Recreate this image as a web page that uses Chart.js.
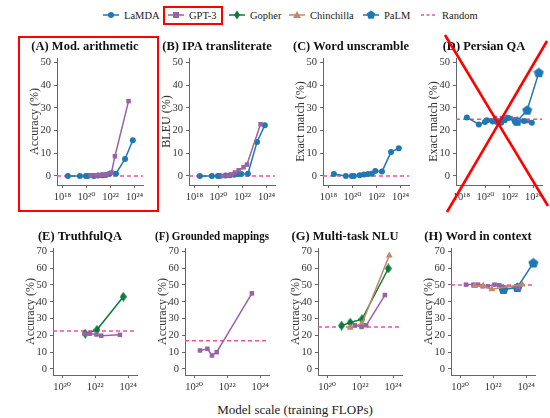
<!doctype html>
<html lang="en">
  <head>
    <meta charset="utf-8">
    <title>Emergent abilities</title>
    <style>
      * { margin: 0; padding: 0; }
      body {
        width: 550px;
        height: 418px;
        position: relative;
        overflow: hidden;
        background: #fff;
        font-family: "Liberation Serif", "DejaVu Serif", serif;
        color: #222;
      }
      .panel { position: absolute; }
      .item {
        position: absolute;
        top: 6px;
        height: 18px;
        display: flex;
        align-items: center;
        font-size: 10.5px;
        white-space: nowrap;
      }
      .item svg { margin-right: 5px; }
      .gptBox {
        position: absolute;
        left: 163px; top: 6px;
        width: 60px; height: 19px;
        border: 2px solid #ff0000;
        box-sizing: border-box;
      }
      .boxA {
        position: absolute;
        left: 18px; top: 36px;
        width: 141px; height: 176px;
        border: 2.5px solid #ff0000;
        box-sizing: border-box;
      }
      .xlabel {
        position: absolute;
        left: 195px; top: 402px;
        width: 200px;
        text-align: center;
        font-size: 13px;
      }
      .overlay { position: absolute; left: 0; top: 0; pointer-events: none; }
    </style>
  </head>
  <body>
    <div class="item" style="left:103px">
      <svg width="16" height="10"><line x1="0" y1="5" x2="16" y2="5" stroke="#1f77b4" stroke-width="1.5"/><circle cx="8" cy="5" r="3" fill="#1f77b4"/></svg>LaMDA</div>
    <div class="item" style="left:168px">
      <svg width="16" height="10"><line x1="0" y1="5" x2="16" y2="5" stroke="#9a62a6" stroke-width="1.5"/><rect x="5" y="2" width="6" height="6" fill="#9a62a6"/></svg>GPT-3</div>
    <div class="item" style="left:229px">
      <svg width="16" height="10"><line x1="0" y1="5" x2="16" y2="5" stroke="#0b7a3b" stroke-width="1.5"/><polygon points="8,0.5 11,5 8,9.5 5,5" fill="#0b7a3b"/></svg>Gopher</div>
    <div class="item" style="left:289px">
      <svg width="16" height="10"><line x1="0" y1="5" x2="16" y2="5" stroke="#c08a68" stroke-width="1.5"/><polygon points="8,1 12,8 4,8" fill="#c08a68"/></svg>Chinchilla</div>
    <div class="item" style="left:363px">
      <svg width="16" height="10"><line x1="0" y1="5" x2="16" y2="5" stroke="#1f77b4" stroke-width="1.5"/><polygon points="8,0.5 12.3,3.6 10.6,8.7 5.4,8.7 3.7,3.6" fill="#1f77b4"/></svg>PaLM</div>
    <div class="item" style="left:421px">
      <svg width="16" height="10"><line x1="0" y1="5" x2="16" y2="5" stroke="#f0509a" stroke-width="1.5" stroke-dasharray="3,2.5"/></svg>Random</div>
    <div class="gptBox"></div>

    <div class="xlabel">Model scale (training FLOPs)</div>

    <script src="https://cdn.jsdelivr.net/npm/chart.js/dist/chart.umd.min.js"></script>
    <script>
    // data: training FLOPs per model and scores per task
    const lamdaFlops = [2.8e18, 2.8e19, 8.9e19, 1.3e20, 4.0e20, 8.9e20, 2.0e21, 4.0e21, 7.9e21, 2.8e22, 1.6e23, 7.1e23];
    const gpt3Flops = [2.25e20, 6.41e20, 1.2e21, 2.31e21, 4.77e21, 1.2e22, 2.31e22, 3.14e23];
    const gopherFlops = [7.5e20, 2.5e21, 1.28e22, 5.04e23];
    const chinchillaFlopsG = [2.5e21, 1.28e22, 5.76e23];
    const chinchillaFlopsH = [7.5e20, 2.5e21, 8.3e21, 5.76e23];
    const palmFlops = [4.2e22, 2.9e23, 2.7e24];

    const modArithLamda = [0, 0, 0, 0, 0, 0.2, 0.3, 0.4, 0.8, 1.0, 7.5, 15.7];
    const modArithGpt3 = [0.3, 0.3, 0.4, 0.5, 0.6, 1.5, 8.7, 33];
    const ipaLamda = [0, 0, 0, 0, 0.2, 0.3, 0.5, 0.8, 0.9, 1.0, 15, 22.4];
    const ipaGpt3 = [0, 0.3, 0.6, 1.5, 2.5, 3.8, 5, 22.8];
    const unscrambleLamda = [0.9, 0, 0, 0, 0.3, 0.6, 0.9, 1.0, 2.2, 1.9, 10.5, 12.2];
    const persianLamda = [25.8, 22.7, 23.8, 24.5, 24, 23.8, 23.5, 24.5, 25.5, 24.0, 24.2, 23.5];
    const persianGpt3 = [24.5, 25.5, 24.5, 25.5, 26, 25.5, 25, 24.2];
    const persianPalm = [24.1, 29, 45.5];
    const truthfulGpt3Flops = [2.31e21, 4.77e21, 1.2e22, 2.31e22, 3.14e23];
    const truthfulGpt3 = [21, 21, 20.5, 19.8, 20.3];
    const truthfulGopherFlops = [2.5e21, 1.28e22, 5.04e23];
    const truthfulGopher = [21, 23.3, 43];
    const groundedGpt3Flops = [2.25e20, 6.41e20, 1.2e21, 2.31e21, 3.14e23];
    const groundedGpt3 = [11, 12, 8, 10, 45];
    const nluGpt3Flops = [4.77e21, 1.2e22, 2.31e22, 3.14e23];
    const nluGpt3 = [26, 25, 26, 44];
    const nluGopher = [25.8, 27.6, 29.6, 59.8];
    const nluChinchilla = [24.5, 27, 67.5];
    const wicGpt3 = [50.2, 50.2, 50.2, 49.2, 49.2, 50.2, 49.8, 48.5];
    const wicChinchilla = [49.4, 49.5, 47.5, 50.3];
    const wicPalm = [47.3, 48.5, 63.1];

    const randomBaseline = [0, 0, 0, 25, 22.6, 16.8, 25, 50];

    const xTicksTop = [1e18, 1e20, 1e22, 1e24];
    const xTicksBottom = [1e20, 1e22, 1e24];
    const yTicksTop = [0, 10, 20, 30, 40, 50];
    const yTicksBottom = [0, 10, 20, 30, 40, 50, 60, 70];

    const FONT = "'Liberation Serif', 'DejaVu Serif', serif";
    Chart.defaults.font.family = FONT;

    const BLUE = '#1f77b4', PURPLE = '#9a62a6', GREEN = '#0b7a3b', TAN = '#c08a68', PINK = '#f0509a';

    // custom markers
    function marker(w, h, color, pts) {
      const c = document.createElement('canvas');
      c.width = w; c.height = h;
      const g = c.getContext('2d');
      g.fillStyle = color;
      g.beginPath();
      pts.forEach((p, i) => i ? g.lineTo(p[0], p[1]) : g.moveTo(p[0], p[1]));
      g.closePath();
      g.fill();
      return c;
    }
    const diamond = marker(7, 10, GREEN, [[3.5, 0], [7, 5], [3.5, 10], [0, 5]]);
    const pentagon = (() => {
      const pts = [];
      for (let k = 0; k < 5; k++) {
        const a = -Math.PI / 2 + k * 2 * Math.PI / 5;
        pts.push([5.5 + 5.3 * Math.cos(a), 5.8 + 5.3 * Math.sin(a)]);
      }
      return marker(11, 11, BLUE, pts);
    })();

    const styles = {
      lamda: { color: BLUE, pointStyle: 'circle', r: 3 },
      gpt3: { color: PURPLE, pointStyle: 'rect', r: 3.2 },
      gopher: { color: GREEN, pointStyle: diamond, r: 4 },
      chinchilla: { color: TAN, pointStyle: 'triangle', r: 4 },
      palm: { color: BLUE, pointStyle: pentagon, r: 5 }
    };

    const sup = { '0': '⁰', '1': '¹', '2': '²', '3': '³', '4': '⁴', '5': '⁵', '6': '⁶', '7': '⁷', '8': '⁸', '9': '⁹' };
    function powLabel(v) {
      const e = String(Math.round(Math.log10(v)));
      return '10' + e.split('').map(d => sup[d]).join('');
    }

    const panels = [
      { title: '(A) Mod. arithmetic', ylabel: 'Accuracy (%)', row: 0, axisX: 57, random: randomBaseline[0],
        series: [['gpt3', gpt3Flops, modArithGpt3], ['lamda', lamdaFlops, modArithLamda]] },
      { title: '(B) IPA transliterate', ylabel: 'BLEU (%)', row: 0, axisX: 189, random: randomBaseline[1],
        series: [['gpt3', gpt3Flops, ipaGpt3], ['lamda', lamdaFlops, ipaLamda]] },
      { title: '(C) Word unscramble', ylabel: 'Exact match (%)', row: 0, axisX: 323, random: randomBaseline[2],
        series: [['lamda', lamdaFlops, unscrambleLamda]] },
      { title: '(D) Persian QA', ylabel: 'Exact match (%)', row: 0, axisX: 456, random: randomBaseline[3],
        series: [['lamda', lamdaFlops, persianLamda], ['gpt3', gpt3Flops, persianGpt3], ['palm', palmFlops, persianPalm]] },
      { title: '(E) TruthfulQA', ylabel: 'Accuracy (%)', row: 1, axisX: 53, random: randomBaseline[4],
        series: [['gpt3', truthfulGpt3Flops, truthfulGpt3], ['gopher', truthfulGopherFlops, truthfulGopher]] },
      { title: '(F) Grounded mappings', ylabel: 'Accuracy (%)', row: 1, axisX: 185, random: randomBaseline[5],
        series: [['gpt3', groundedGpt3Flops, groundedGpt3]] },
      { title: '(G) Multi-task NLU', ylabel: 'Accuracy (%)', row: 1, axisX: 318, random: randomBaseline[6],
        series: [['gpt3', nluGpt3Flops, nluGpt3], ['chinchilla', chinchillaFlopsG, nluChinchilla], ['gopher', gopherFlops, nluGopher]] },
      { title: '(H) Word in context', ylabel: 'Accuracy (%)', row: 1, axisX: 451, random: randomBaseline[7],
        series: [['chinchilla', chinchillaFlopsH, wicChinchilla], ['gpt3', gpt3Flops, wicGpt3], ['palm', palmFlops, wicPalm]] }
    ];

    const rows = [
      { top: 36, plotW: 86, xmin: 3.5e17, xmax: 5e24, xTicks: xTicksTop, ymin: -4, ymax: 52, yTicks: yTicksTop },
      { top: 226, plotW: 84, xmin: 2.8e19, xmax: 3.4e24, xTicks: xTicksBottom, ymin: -3.6, ymax: 72, yTicks: yTicksBottom }
    ];
    const YW = 30, XH = 22, TH = 22, PH = 127, PADR = 30;

    panels.forEach(p => {
      const r = rows[p.row];
      const div = document.createElement('div');
      div.className = 'panel';
      div.style.left = (p.axisX - YW) + 'px';
      div.style.top = r.top + 'px';
      div.style.width = (YW + r.plotW + PADR) + 'px';
      div.style.height = (TH + PH + XH) + 'px';
      const cv = document.createElement('canvas');
      div.appendChild(cv);
      document.body.appendChild(div);

      const datasets = p.series.map(([key, xs, ys]) => {
        const s = styles[key];
        return {
          data: xs.map((x, i) => ({ x: x, y: ys[i] })),
          borderColor: s.color,
          backgroundColor: s.color,
          borderWidth: 1.5,
          pointStyle: s.pointStyle,
          pointRadius: s.r,
          pointBackgroundColor: s.color,
          pointBorderColor: s.color,
          pointBorderWidth: 0,
          tension: 0,
          clip: false
        };
      });
      datasets.push({
        data: [{ x: r.xmin, y: p.random }, { x: r.xmax, y: p.random }],
        borderColor: PINK,
        borderWidth: 1.6,
        borderDash: [4, 3],
        pointRadius: 0,
        clip: false
      });

      new Chart(cv, {
        type: 'line',
        data: { datasets },
        options: {
          responsive: true,
          maintainAspectRatio: false,
          animation: false,
          layout: { padding: { right: PADR } },
          plugins: {
            legend: { display: false },
            tooltip: { enabled: false },
            title: {
              display: true, text: p.title, color: '#111',
              font: { family: FONT, size: 12.5, weight: 'bold' },
              padding: { top: 3, bottom: TH - 3 - 15 }
            }
          },
          scales: {
            x: {
              type: 'logarithmic', min: r.xmin, max: r.xmax,
              afterBuildTicks: s => { s.ticks = r.xTicks.map(v => ({ value: v })); },
              afterFit: s => { s.height = XH; },
              ticks: { callback: v => powLabel(v), color: '#333', font: { size: 10.5 }, padding: 3, maxRotation: 0, autoSkip: false },
              grid: { drawOnChartArea: false, drawTicks: true, tickLength: 3, color: '#666' },
              border: { display: true, color: '#666', width: 1 }
            },
            y: {
              type: 'linear', min: r.ymin, max: r.ymax,
              afterBuildTicks: s => { s.ticks = r.yTicks.map(v => ({ value: v })); },
              afterFit: s => { s.width = YW; },
              ticks: { color: '#333', font: { size: 10.5 }, padding: 3 },
              grid: { drawOnChartArea: false, drawTicks: true, tickLength: 3, color: '#666' },
              border: { display: true, color: '#666', width: 1 },
              title: { display: true, text: p.ylabel, color: '#333', font: { size: 12 }, padding: { top: 1, bottom: 0 } }
            }
          }
        }
      });
    });
    </script>

    <div class="boxA"></div>
    <svg class="overlay" width="550" height="418">
      <line x1="445" y1="35" x2="548" y2="206" stroke="#ff0000" stroke-width="2.6"/>
      <line x1="547" y1="41" x2="447" y2="212" stroke="#ff0000" stroke-width="2.6"/>
    </svg>
  </body>
</html>
